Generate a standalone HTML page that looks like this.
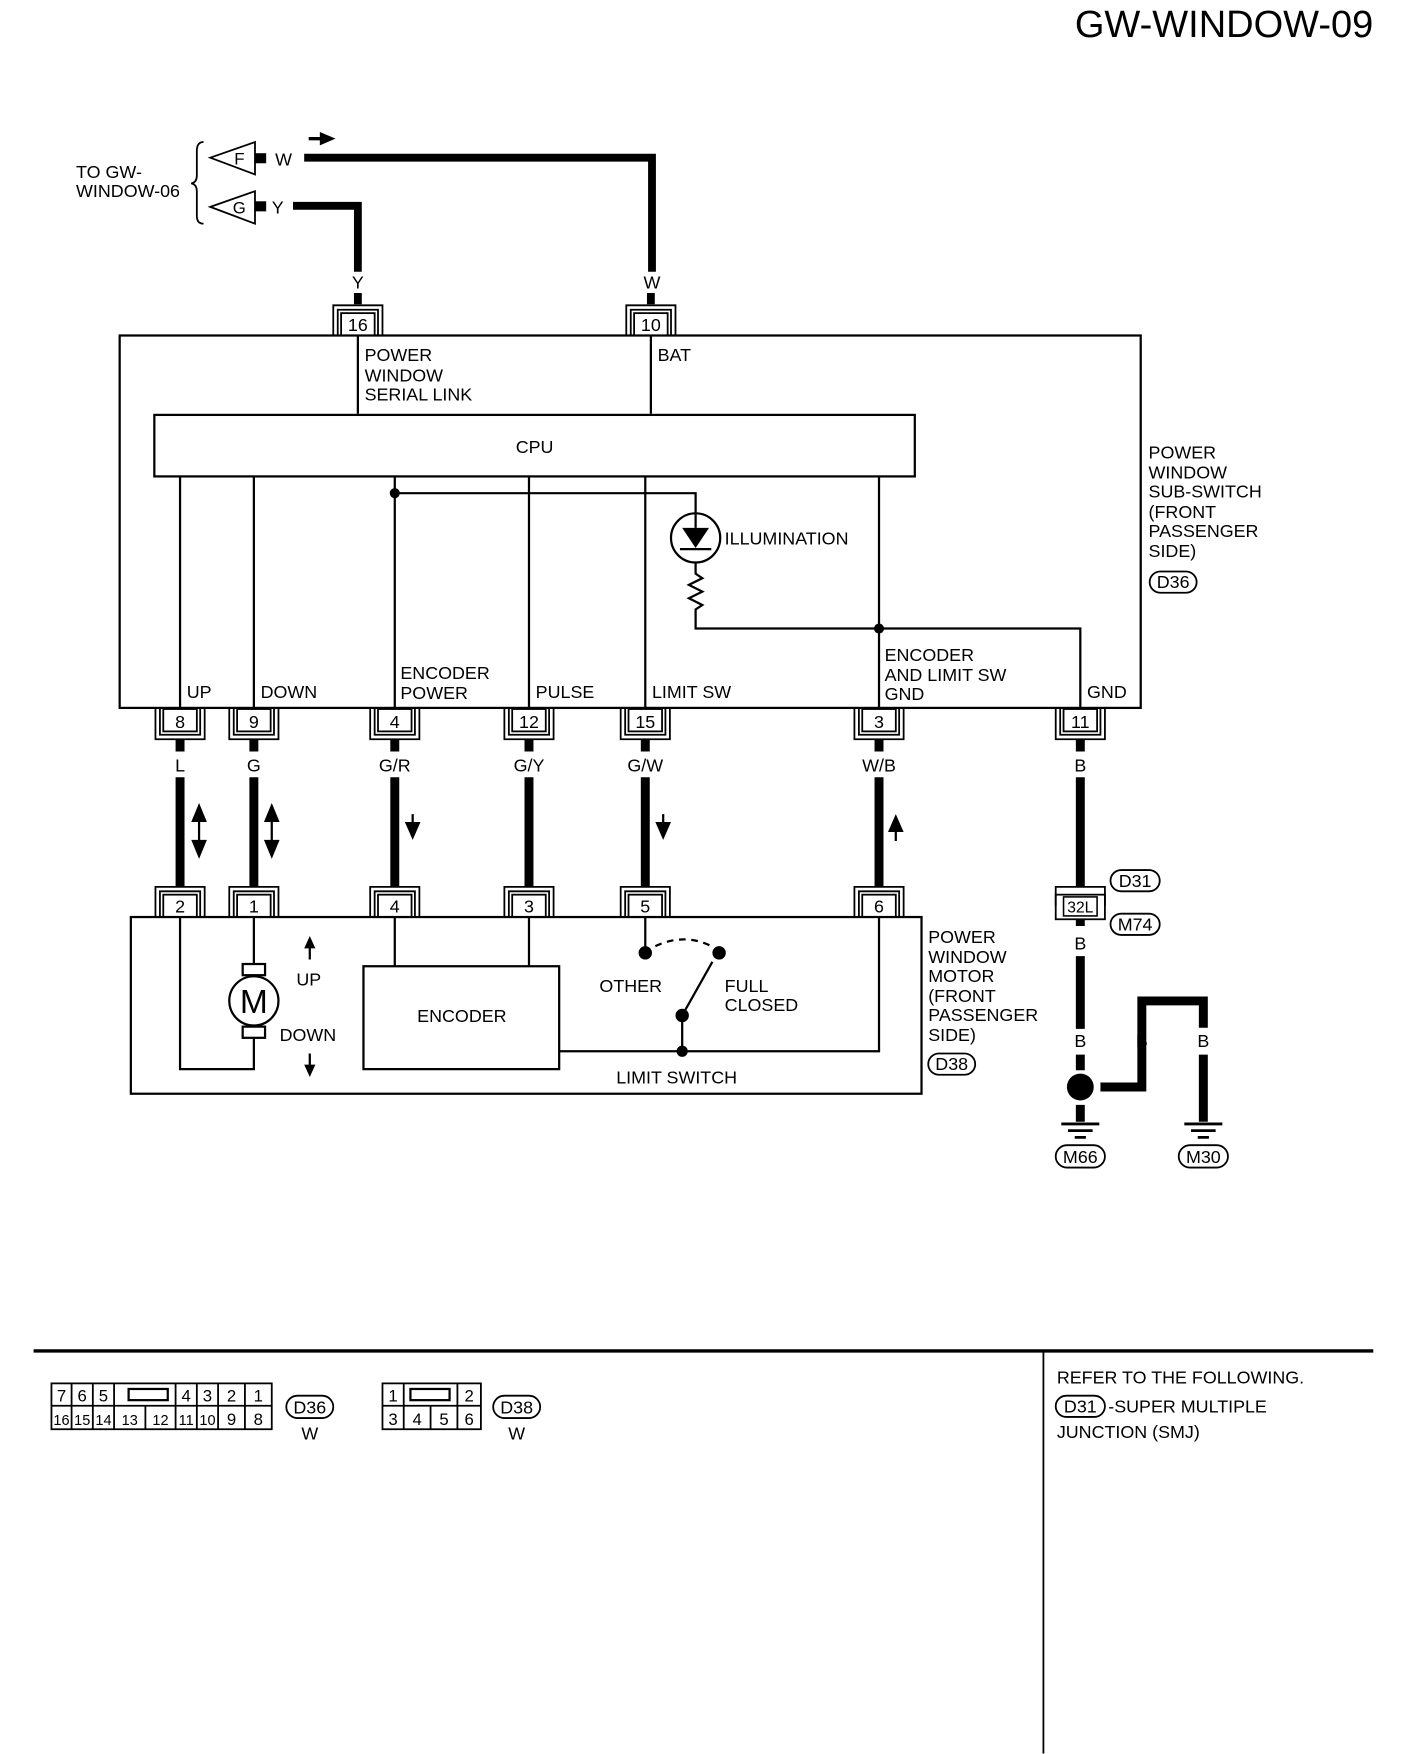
<!DOCTYPE html>
<html><head><meta charset="utf-8"><style>
html,body{margin:0;padding:0;background:#fff}
svg{display:block}
text{font-family:"Liberation Sans",Arial,sans-serif;fill:#000}
</style></head><body>
<svg width="1408" height="1754" viewBox="0 0 1259 1568.4" xmlns="http://www.w3.org/2000/svg">
<defs>
<g id="ca" fill="none" stroke="#000" stroke-width="1.6">
<rect x="-15" y="-20" width="30" height="20" fill="#fff"/>
<path d="M-22,0 V-27 H22 V0 M-18,0 V-23 H18 V0"/>
</g>
<g id="cb" fill="none" stroke="#000" stroke-width="1.6">
<rect x="-15" y="0" width="30" height="20" fill="#fff"/>
<path d="M-22,0 V27 H22 V0 M-18,0 V23 H18 V0"/>
</g>
</defs>
<g font-size="16">
<text x="1228" y="33" font-size="34" text-anchor="end">GW-WINDOW-09</text>

<text x="68" y="159">TO GW-</text>
<text x="68" y="176">WINDOW-06</text>
<path d="M182,127 Q176,127 176,135 V157 Q176,163 171,164 Q176,165 176,171 V193 Q176,200 182,200" fill="none" stroke="#000" stroke-width="1.6"/>
<polygon points="188,141 228,127 228,156" fill="#fff" stroke="#000" stroke-width="1.6"/>
<text x="214" y="147" font-size="15" text-anchor="middle">F</text>
<polygon points="188,185 228,171 228,200" fill="#fff" stroke="#000" stroke-width="1.6"/>
<text x="214" y="191" font-size="15" text-anchor="middle">G</text>
<rect x="228" y="137" width="10" height="9"/>
<rect x="228" y="180" width="10" height="9"/>
<text x="246" y="148">W</text>
<text x="243" y="191">Y</text>
<path d="M272,141 H583 V243" fill="none" stroke="#000" stroke-width="7"/>
<path d="M262,184 H320 V243" fill="none" stroke="#000" stroke-width="7"/>
<path d="M320,262 V272 M582,262 V272" stroke="#000" stroke-width="7"/>
<path d="M276,124 H288" stroke="#000" stroke-width="3"/>
<polygon points="286,118 300,124 286,130"/>
<text x="320" y="258" text-anchor="middle">Y</text>
<text x="583" y="258" text-anchor="middle">W</text>

<use href="#ca" x="320" y="300"/><text x="320" y="296" text-anchor="middle">16</text>
<use href="#ca" x="582" y="300"/><text x="582" y="296" text-anchor="middle">10</text>

<g fill="none" stroke="#000" stroke-width="2">
<rect x="107" y="300" width="913" height="333"/>
<path d="M320,300 V370 M582,300 V370"/>
<rect x="138" y="371" width="680" height="55"/>
<path d="M161,426 V633 M227,426 V633 M353,426 V633 M473,426 V633 M577,426 V633 M786,426 V633"/>
<path d="M353,441 H622 V459 M622,503 V513 L628,517 L616,523 L628,529 L616,535 L628,541 L622,545 V562 H966 V633"/>
</g>
<circle cx="353" cy="441" r="4.5"/>
<circle cx="786" cy="562" r="4.5"/>
<circle cx="622" cy="481" r="22" fill="#fff" stroke="#000" stroke-width="2"/>
<polygon points="610,472 634,472 622,490"/>
<path d="M608,491 H636 M622,459 V472" stroke="#000" stroke-width="2"/>
<text x="648" y="487">ILLUMINATION</text>
<text x="326" y="323">POWER</text><text x="326" y="341">WINDOW</text><text x="326" y="358">SERIAL LINK</text>
<text x="588" y="323">BAT</text>
<text x="478" y="405" text-anchor="middle">CPU</text>
<text x="167" y="624">UP</text>
<text x="233" y="624">DOWN</text>
<text x="358" y="607">ENCODER</text><text x="358" y="625">POWER</text>
<text x="479" y="624">PULSE</text>
<text x="583" y="624">LIMIT SW</text>
<text x="791" y="591">ENCODER</text><text x="791" y="609">AND LIMIT SW</text><text x="791" y="626">GND</text>
<text x="972" y="624">GND</text>
<text x="1027" y="410">POWER</text><text x="1027" y="428">WINDOW</text><text x="1027" y="445">SUB-SWITCH</text>
<text x="1027" y="463">(FRONT</text><text x="1027" y="480"> PASSENGER</text><text x="1027" y="498"> SIDE)</text>
<rect x="1028" y="511" width="42" height="19" rx="9.5" fill="none" stroke="#000" stroke-width="1.6"/>
<text x="1049" y="526" text-anchor="middle">D36</text>

<use href="#cb" x="161" y="634"/><text x="161" y="651" text-anchor="middle">8</text>
<use href="#cb" x="227" y="634"/><text x="227" y="651" text-anchor="middle">9</text>
<use href="#cb" x="353" y="634"/><text x="353" y="651" text-anchor="middle">4</text>
<use href="#cb" x="473" y="634"/><text x="473" y="651" text-anchor="middle">12</text>
<use href="#cb" x="577" y="634"/><text x="577" y="651" text-anchor="middle">15</text>
<use href="#cb" x="786" y="634"/><text x="786" y="651" text-anchor="middle">3</text>
<use href="#cb" x="966" y="634"/><text x="966" y="651" text-anchor="middle">11</text>
<g stroke="#000" stroke-width="8">
<path d="M161,661 V672 M227,661 V672 M353,661 V672 M473,661 V672 M577,661 V672 M786,661 V672 M966,661 V672"/>
<path d="M161,695 V793 M227,695 V793 M353,695 V793 M473,695 V793 M577,695 V793 M786,695 V793 M966,695 V793"/>
</g>
<g text-anchor="middle">
<text x="161" y="690">L</text><text x="227" y="690">G</text><text x="353" y="690">G/R</text>
<text x="473" y="690">G/Y</text><text x="577" y="690">G/W</text><text x="786" y="690">W/B</text><text x="966" y="690">B</text>
</g>
<g stroke="#000" stroke-width="2">
<path d="M178,728 V760 M243,728 V760 M369,728 V742 M593,728 V742 M801,736 V752"/>
</g>
<polygon points="171,735 178,718 185,735"/><polygon points="171,751 178,768 185,751"/>
<polygon points="236,735 243,718 250,735"/><polygon points="236,751 243,768 250,751"/>
<polygon points="362,735 369,751 376,735"/>
<polygon points="586,735 593,751 600,735"/>
<polygon points="794,744 801,728 808,744"/>

<use href="#ca" x="161" y="820"/><text x="161" y="816" text-anchor="middle">2</text>
<use href="#ca" x="227" y="820"/><text x="227" y="816" text-anchor="middle">1</text>
<use href="#ca" x="353" y="820"/><text x="353" y="816" text-anchor="middle">4</text>
<use href="#ca" x="473" y="820"/><text x="473" y="816" text-anchor="middle">3</text>
<use href="#ca" x="577" y="820"/><text x="577" y="816" text-anchor="middle">5</text>
<use href="#ca" x="786" y="820"/><text x="786" y="816" text-anchor="middle">6</text>

<g fill="none" stroke="#000" stroke-width="2">
<rect x="117" y="820" width="707" height="158"/>
<path d="M161,820 V956 H227 V928 M227,820 V862"/>
<rect x="217" y="862" width="20" height="10"/>
<rect x="217" y="918" width="20" height="10"/>
<circle cx="227" cy="895" r="22" fill="#fff"/>
<rect x="325" y="864" width="175" height="92"/>
<path d="M353,820 V864 M473,820 V864"/>
<path d="M577,820 V852 M610,908 L637,860 M610,908 V940 M500,940 H786 V820"/>
<path d="M586,846 Q612,834 636,846" stroke-dasharray="6,5"/>
<path d="M277,846 V858 M277,942 V954"/>
</g>
<polygon points="272,848 277,837 282,848"/>
<polygon points="272,952 277,963 282,952"/>
<text x="227" y="906" font-size="30" text-anchor="middle">M</text>
<text x="265" y="881">UP</text>
<text x="250" y="931">DOWN</text>
<text x="413" y="914" text-anchor="middle">ENCODER</text>
<circle cx="577" cy="852" r="6"/><circle cx="643" cy="852" r="6"/>
<circle cx="610" cy="908" r="6"/><circle cx="610" cy="940" r="5"/>
<text x="536" y="887">OTHER</text>
<text x="648" y="887">FULL</text><text x="648" y="904">CLOSED</text>
<text x="551" y="969">LIMIT SWITCH</text>
<text x="830" y="843">POWER</text><text x="830" y="861">WINDOW</text><text x="830" y="878">MOTOR</text>
<text x="830" y="896">(FRONT</text><text x="830" y="913"> PASSENGER</text><text x="830" y="931"> SIDE)</text>
<rect x="830" y="942" width="42" height="19" rx="9.5" fill="none" stroke="#000" stroke-width="1.6"/>
<text x="851" y="957" text-anchor="middle">D38</text>

<rect x="944" y="800" width="44" height="22" fill="none" stroke="#000" stroke-width="1.6"/>
<path d="M944,810 V793 H988 V810" fill="none" stroke="#000" stroke-width="1.6"/>
<rect x="951" y="802" width="30" height="17" fill="#fff" stroke="#000" stroke-width="1.4"/>
<text x="966" y="816" font-size="14" text-anchor="middle">32L</text>
<rect x="993" y="778" width="44" height="19" rx="9.5" fill="none" stroke="#000" stroke-width="1.6"/>
<text x="1015" y="793" text-anchor="middle">D31</text>
<rect x="993" y="817" width="44" height="19" rx="9.5" fill="none" stroke="#000" stroke-width="1.6"/>
<text x="1015" y="832" text-anchor="middle">M74</text>
<text x="966" y="849" text-anchor="middle">B</text>
<g stroke="#000" stroke-width="8" fill="none">
<path d="M966,822 V828 M966,855 V920 M966,943 V957 M966,988 V1003"/>
<path d="M984,972 H1021 V895 H1076 V919 M1021,943 V972 M1076,943 V1003"/>
</g>
<text x="966" y="936" text-anchor="middle">B</text>
<text x="1021" y="936" text-anchor="middle">B</text>
<text x="1076" y="936" text-anchor="middle">B</text>
<circle cx="966" cy="972" r="12"/>
<g stroke="#000" stroke-width="2.5">
<path d="M949,1005 H983 M955,1011 H977 M961,1017 H971"/>
<path d="M1059,1005 H1093 M1065,1011 H1087 M1071,1017 H1081"/>
</g>
<rect x="944" y="1024" width="44" height="20" rx="10" fill="none" stroke="#000" stroke-width="1.6"/>
<text x="966" y="1040" text-anchor="middle">M66</text>
<rect x="1054" y="1024" width="44" height="20" rx="10" fill="none" stroke="#000" stroke-width="1.6"/>
<text x="1076" y="1040" text-anchor="middle">M30</text>

<path d="M30,1208 H1228" stroke="#000" stroke-width="3"/>
<path d="M933,1208 V1568" stroke="#000" stroke-width="1.6"/>
<text x="945" y="1237">REFER TO THE FOLLOWING.</text>
<rect x="944" y="1248" width="44" height="19" rx="9.5" fill="none" stroke="#000" stroke-width="1.6"/>
<text x="966" y="1263" text-anchor="middle">D31</text>
<text x="991" y="1263">-SUPER MULTIPLE</text>
<text x="945" y="1286">JUNCTION (SMJ)</text>

<g fill="none" stroke="#000" stroke-width="1.6">
<rect x="46" y="1237" width="197" height="41"/>
<path d="M46,1257 H243"/>
<path d="M64,1237 V1278 M83,1237 V1278 M102,1237 V1278 M157,1237 V1278 M176,1237 V1278 M195,1237 V1278 M219,1237 V1278"/>
<path d="M130,1257 V1278"/>
<rect x="115" y="1242" width="35" height="10" stroke-width="2"/>
<rect x="342" y="1237" width="88" height="41"/>
<path d="M342,1257 H430 M361,1237 V1278 M409,1237 V1278 M385,1257 V1278"/>
<rect x="367" y="1242" width="35" height="10" stroke-width="2"/>
</g>
<g font-size="15" text-anchor="middle">
<text x="55" y="1253">7</text><text x="73.5" y="1253">6</text><text x="92.5" y="1253">5</text>
<text x="166.5" y="1253">4</text><text x="185.5" y="1253">3</text><text x="207" y="1253">2</text><text x="231" y="1253">1</text>
<g font-size="13"><text x="55" y="1274">16</text><text x="73.5" y="1274">15</text><text x="92.5" y="1274">14</text>
<text x="116" y="1274">13</text><text x="143.5" y="1274">12</text><text x="166.5" y="1274">11</text><text x="185.5" y="1274">10</text></g>
<text x="207" y="1274">9</text>
<text x="231" y="1274">8</text>
<text x="351.5" y="1253">1</text><text x="419.5" y="1253">2</text>
<text x="351.5" y="1274">3</text><text x="373" y="1274">4</text><text x="397" y="1274">5</text><text x="419.5" y="1274">6</text>
</g>
<rect x="256" y="1248" width="42" height="20" rx="10" fill="none" stroke="#000" stroke-width="1.6"/>
<text x="277" y="1264" text-anchor="middle">D36</text>
<text x="277" y="1287" text-anchor="middle">W</text>
<rect x="441" y="1248" width="42" height="20" rx="10" fill="none" stroke="#000" stroke-width="1.6"/>
<text x="462" y="1264" text-anchor="middle">D38</text>
<text x="462" y="1287" text-anchor="middle">W</text>
</g>
</svg>
</body></html>
